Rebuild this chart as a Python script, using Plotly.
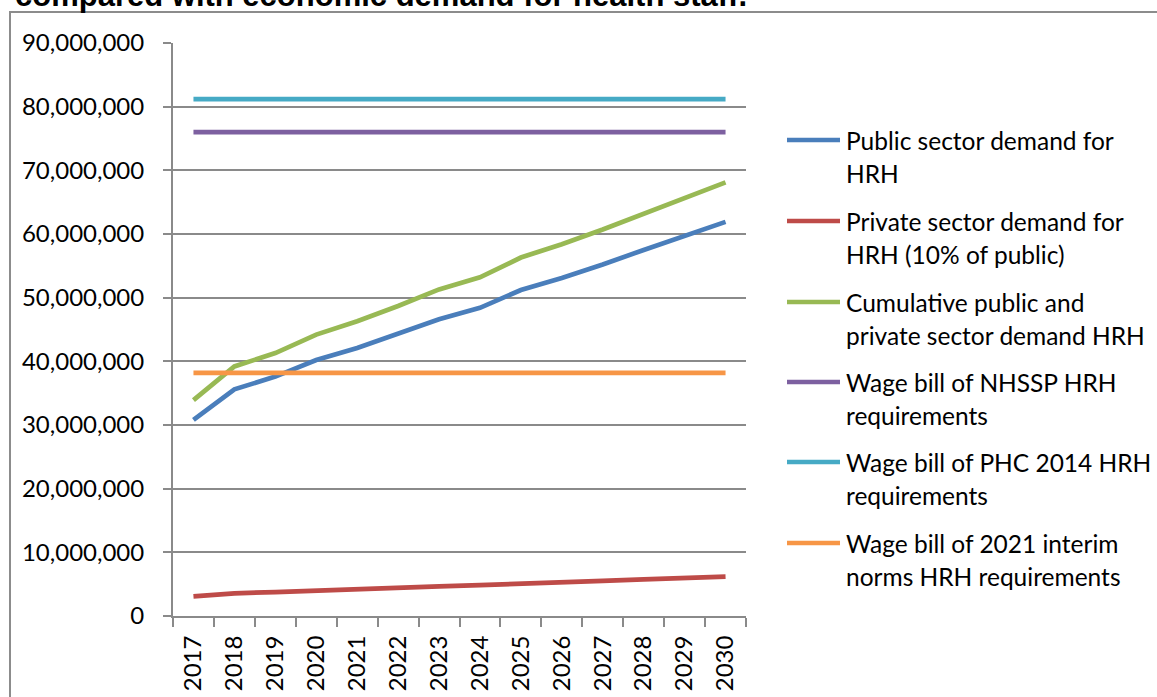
import plotly.graph_objects as go

# ---- data -------------------------------------------------------------
years = ["2017", "2018", "2019", "2020", "2021", "2022", "2023",
         "2024", "2025", "2026", "2027", "2028", "2029", "2030"]

public_demand = [30.8e6, 35.6e6, 37.6e6, 40.2e6, 42.1e6, 44.3e6, 46.6e6,
                 48.4e6, 51.2e6, 53.1e6, 55.2e6, 57.5e6, 59.7e6, 61.9e6]
private_demand = [3.08e6, 3.56e6, 3.76e6, 4.02e6, 4.21e6, 4.43e6, 4.66e6,
                  4.84e6, 5.12e6, 5.31e6, 5.52e6, 5.75e6, 5.97e6, 6.19e6]
cumulative_demand = [33.9e6, 39.2e6, 41.3e6, 44.2e6, 46.3e6, 48.7e6, 51.3e6,
                     53.2e6, 56.3e6, 58.4e6, 60.7e6, 63.2e6, 65.7e6, 68.1e6]
nhssp_wage_bill = [76.0e6] * 14
phc2014_wage_bill = [81.2e6] * 14
interim2021_wage_bill = [38.2e6] * 14

series_names = [
    ["Public sector demand for", "HRH"],
    ["Private sector demand for", "HRH (10% of public)"],
    ["Cumulative public and", "private sector demand HRH"],
    ["Wage bill of NHSSP HRH", "requirements"],
    ["Wage bill of PHC 2014 HRH", "requirements"],
    ["Wage bill of 2021 interim", "norms HRH requirements"],
]
series_values = [public_demand, private_demand, cumulative_demand,
                 nhssp_wage_bill, phc2014_wage_bill, interim2021_wage_bill]
series_colors = ["#4A7EBB", "#BE4B48", "#98B954", "#7D60A0", "#46AAC5", "#F79646"]

title_text = "compared with economic demand for health staff."

# ---- layout geometry (pixels) ------------------------------------------
W, H = 1157, 697
PL, PR, PT, PB = 173, 746, 43, 616   # plot area edges
PW, PH = PR - PL, PB - PT


def px_x(px):
    return (px - PL) / PW


def px_y(py):
    return (PB - py) / PH


FONT = "Lato, Calibri, Carlito, sans-serif"
GRID = "#8A8A8A"

fig = go.Figure()

for name, vals, col in zip(series_names, series_values, series_colors):
    fig.add_trace(go.Scatter(
        x=years, y=vals, mode="lines", name=" ".join(name),
        line=dict(color=col, width=4.7), showlegend=False,
        hoverinfo="x+y+name",
    ))

shapes = []
annotations = []

# outer frame of the chart
shapes.append(dict(type="rect", xref="paper", yref="paper",
                   x0=px_x(10), x1=px_x(W + 20), y0=px_y(H + 20), y1=px_y(12),
                   line=dict(color="#8C8C8C", width=2), fillcolor="rgba(0,0,0,0)",
                   layer="below"))

# legend drawn as line samples with two-line labels
legend_y = [140, 221, 302, 382, 462, 543]
for ly, name, col in zip(legend_y, series_names, series_colors):
    shapes.append(dict(type="line", xref="paper", yref="paper",
                       x0=px_x(787), x1=px_x(840), y0=px_y(ly), y1=px_y(ly),
                       line=dict(color=col, width=4.7)))
    for k, part in enumerate(name):
        annotations.append(dict(
            xref="paper", yref="paper", x=px_x(844), y=px_y(ly + 33 * k),
            xanchor="left", yanchor="middle", showarrow=False, text=part,
            font=dict(family=FONT, size=24.5, color="#000000"), align="left"))

# caption heading, partly cut off by the top of the page
annotations.append(dict(
    xref="paper", yref="paper", x=px_x(13), y=px_y(15),
    xanchor="left", yanchor="bottom", showarrow=False,
    text="<b>" + title_text + "</b>",
    font=dict(family="Liberation Sans, Arial, sans-serif", size=31, color="#000000")))

fig.update_layout(
    width=W, height=H,
    margin=dict(l=PL, r=W - PR, t=PT, b=H - PB, autoexpand=False),
    paper_bgcolor="white", plot_bgcolor="white",
    font=dict(family=FONT, size=24, color="#000000"),
    shapes=shapes, annotations=annotations,
    showlegend=False,
)

fig.update_xaxes(
    type="category", range=[-0.5, 13.5], tickson="boundaries",
    ticks="outside", ticklen=9, tickwidth=1.5, tickcolor=GRID,
    showline=True, linecolor=GRID, linewidth=2,
    showgrid=False, tickangle=-90, ticklabelstandoff=8,
    tickfont=dict(family=FONT, size=24, color="#000000"),
)
fig.update_yaxes(
    range=[0, 90e6], dtick=10e6, tickformat=",d",
    ticks="outside", ticklen=8, tickwidth=1.5, tickcolor=GRID,
    showline=True, linecolor=GRID, linewidth=2,
    showgrid=True, gridcolor=GRID, gridwidth=1.5, zeroline=False,
    ticklabelstandoff=14,
    tickfont=dict(family=FONT, size=24, color="#000000"),
)

fig.write_html("out.html")
